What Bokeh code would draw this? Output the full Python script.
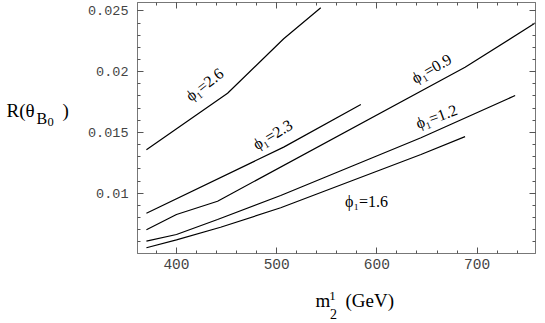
import math
from bokeh.plotting import figure
from bokeh.models import (LinearAxis, SingleIntervalTicker, CustomJSTickFormatter,
                          Range1d, ColumnDataSource)
from bokeh.layouts import column, row
from bokeh.core.properties import value
from bokeh.embed import file_html
from bokeh.resources import INLINE

# ---- data ----
m_26 = [370, 451, 507, 544]
R_26 = [0.01357, 0.01823, 0.02271, 0.02526]
m_23 = [370, 507, 584]
R_23 = [0.00835, 0.01379, 0.0173]
m_09 = [370, 400, 441, 688, 758]
R_09 = [0.00699, 0.00825, 0.00934, 0.02037, 0.0240]
m_12 = [370, 400, 441, 504, 644, 738]
R_12 = [0.00605, 0.0066, 0.00784, 0.00981, 0.01456, 0.01804]
m_16 = [370, 400, 444, 504, 644, 688]
R_16 = [0.00551, 0.00616, 0.0072, 0.0088, 0.01318, 0.01466]

curve_labels = ["ϕ₁=2.6", "ϕ₁=2.3", "ϕ₁=0.9", "ϕ₁=1.2", "ϕ₁=1.6"]

X0, X1 = 361.1, 758.3
Y0, Y1 = 0.005037, 0.025695
FW, FH = 398, 251
YLAB_W = 80
LEFT = 137 - YLAB_W
TOP = 2
BOTTOM = 20
MAIN_W = 545 - YLAB_W
MAIN_H = TOP + FH + BOTTOM
XLAB_H = 323 - MAIN_H

p = figure(output_backend="svg", toolbar_location=None,
           frame_width=FW, frame_height=FH,
           min_border_left=LEFT, min_border_right=MAIN_W - LEFT - FW,
           min_border_top=TOP, min_border_bottom=BOTTOM,
           x_range=Range1d(X0, X1), y_range=Range1d(Y0, Y1),
           x_axis_type=None, y_axis_type=None)
p.grid.visible = False
p.outline_line_color = "#777777"
p.outline_line_width = 1
p.background_fill_color = "white"
p.border_fill_color = "white"

xt = SingleIntervalTicker(interval=100, num_minor_ticks=5)
yt = SingleIntervalTicker(interval=0.005, num_minor_ticks=5)
yfmt = CustomJSTickFormatter(code="return tick.toFixed(3).replace(/0+$/, '');")


def style(ax, show):
    ax.axis_line_color = "#777777"
    ax.axis_line_width = 1
    ax.major_tick_in = 6
    ax.major_tick_out = 0
    ax.minor_tick_in = 3
    ax.minor_tick_out = 0
    ax.major_tick_line_color = "#555555"
    ax.minor_tick_line_color = "#555555"
    ax.major_label_text_font = "Liberation Mono"
    ax.major_label_text_color = "#444444"
    if not show:
        ax.major_label_text_font_size = "0px"
        ax.major_label_standoff = 0
        ax.major_label_text_alpha = 0


xb = LinearAxis(ticker=xt)
style(xb, True)
xb.major_label_text_font_size = "14.5px"
xb.major_label_standoff = 5
p.add_layout(xb, "below")

yl = LinearAxis(ticker=yt, formatter=yfmt)
style(yl, True)
yl.major_label_text_font_size = "13.5px"
yl.major_label_standoff = 9
p.add_layout(yl, "left")

xa = LinearAxis(ticker=xt)
style(xa, False)
p.add_layout(xa, "above")
yr = LinearAxis(ticker=yt)
style(yr, False)
p.add_layout(yr, "right")

for xs, ys in [(m_26, R_26), (m_23, R_23), (m_09, R_09), (m_12, R_12), (m_16, R_16)]:
    p.line(xs, ys, line_color="black", line_width=1.2)


def px2x(sx):
    return X0 + (sx - 137) * (X1 - X0) / FW


def py2y(sy):
    return Y1 - (sy - TOP) * (Y1 - Y0) / FH


# curve label placement (page pixel centre, angle in degrees)
lab_pos = [(204, 84, 38), (272, 134, 31), (431, 68, 30), (436, 116, 20), (366, 201, 0)]
lab_src = ColumnDataSource(dict(
    x=[px2x(c[0]) for c in lab_pos],
    y=[py2y(c[1]) for c in lab_pos],
    a=[math.radians(c[2]) for c in lab_pos],
    t=curve_labels))
p.text(x="x", y="y", text="t", angle="a", source=lab_src,
       text_align="center", text_baseline="middle",
       text_font=value("Liberation Serif"), text_font_size="16px",
       text_color="black")


def blank(w, h):
    f = figure(output_backend="svg", toolbar_location=None, width=w, height=h,
               min_border=0, x_range=Range1d(0, w), y_range=Range1d(h, 0),
               x_axis_type=None, y_axis_type=None)
    f.grid.visible = False
    f.outline_line_color = None
    f.background_fill_color = "white"
    f.border_fill_color = "white"
    return f


def piece(f, sx, sy, txt, size, align="left"):
    f.text(x=[sx], y=[sy], text=[txt], text_align=align, text_baseline="alphabetic",
           text_font=value("Liberation Serif"), text_font_size=size,
           text_color="black")


ylab = blank(YLAB_W, MAIN_H)
piece(ylab, 6, 118, "R(θ", "19px")
piece(ylab, 36, 126, "B", "16px")
piece(ylab, 47, 130, "0", "12.5px")
piece(ylab, 62, 118, ")", "19px")

xlab = blank(545, XLAB_H)
oy = MAIN_H
piece(xlab, 315, 300 - oy, "m", "19px")
piece(xlab, 332, 295 - oy, "1", "13px", "center")
piece(xlab, 333, 313 - oy, "2", "14px", "center")
piece(xlab, 345, 300 - oy, "(GeV)", "19px")

layout = column(row(ylab, p, spacing=0), xlab, spacing=0)

open("out.html", "w").write(file_html(layout, INLINE))
